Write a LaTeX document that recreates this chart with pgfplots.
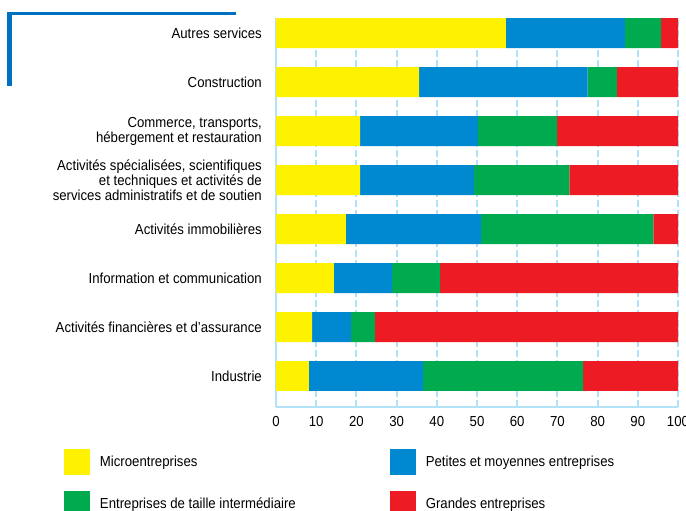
\documentclass[border=0pt]{standalone}
\usepackage{fontspec}
\setmainfont{Liberation Sans}[FakeStretch=0.91]
\usepackage{pgfplots}
\usepackage{pgfplotstable}
\pgfplotsset{compat=1.18}
\definecolor{cmicro}{RGB}{255,242,0}
\definecolor{cpme}{RGB}{0,136,209}
\definecolor{ceti}{RGB}{0,170,79}
\definecolor{cge}{RGB}{237,28,36}
\definecolor{gridblue}{RGB}{178,226,247}
\definecolor{frameblue}{RGB}{0,112,192}
\pgfplotstableread{
idx micro pme eti ge
0 8.2 28.4 39.8 23.6
1 9.0 9.7 5.9 75.4
2 14.4 14.5 11.9 59.2
3 17.4 33.6 42.9 6.1
4 20.9 28.3 23.8 27.0
5 20.9 29.3 19.7 30.1
6 35.6 41.9 7.3 15.2
7 57.2 29.6 9.0 4.2
}\data
\newcommand{\chfont}{\fontsize{14.5bp}{15bp}\selectfont}
\begin{document}
\begin{tikzpicture}
\useasboundingbox (0,0) rectangle (686bp,511bp);
\fill[frameblue] (7.3bp,425bp) rectangle (11.7bp,499.3bp);
\fill[frameblue] (7.3bp,496bp) rectangle (236bp,499.3bp);
\begin{axis}[
  at={(276bp,104bp)}, anchor=south west,
  scale only axis, width=402bp, height=389bp,
  xbar stacked, bar width=0.612,
  xmin=0, xmax=100, ymin=-0.633, ymax=7.31,
  ytick={0,...,7},
  yticklabels={Industrie,{Activités financières et d'assurance},{Information et communication},{Activités immobilières},{Activités spécialisées, scientifiques\\et techniques et activités de\\services administratifs et de soutien},{Commerce, transports,\\hébergement et restauration},Construction,{Autres services}},
  xtick={0,10,...,100},
  axis x line=bottom, axis y line=left,
  axis line style={gridblue, line width=2bp, -},
  major tick length=0pt,
  xmajorgrids,
  grid style={gridblue, line width=2bp, dash pattern=on 7bp off 3bp},
  font=\chfont,
  tick label style={font=\chfont},
  /pgf/number format/assume math mode=true,
  yticklabel style={align=right, inner sep=0pt, xshift=-14bp},
  xticklabel style={inner sep=0pt, yshift=-9bp},
  legend columns=2,
  legend cell align=left,
  legend style={at={(-0.5274,-0.108)}, anchor=north west, draw=none, fill=none,
    inner sep=0pt, outer sep=0pt, row sep=16bp, column sep=8bp,
    font=\chfont,
    /tikz/every even column/.append style={column sep=92bp}},
  legend image code/.code={\fill[#1] (0bp,-13.5bp) rectangle (26bp,12.5bp);},
]
\addplot[fill=cmicro, draw=none] table[x=micro, y=idx]{\data};
\addplot[fill=cpme, draw=none] table[x=pme, y=idx]{\data};
\addplot[fill=ceti, draw=none] table[x=eti, y=idx]{\data};
\addplot[fill=cge, draw=none] table[x=ge, y=idx]{\data};
\legend{Microentreprises,Petites et moyennes entreprises,Entreprises de taille intermédiaire,Grandes entreprises}
\node[anchor=west, inner sep=0pt, font=\chfont] at (axis description cs:1,0) [xshift=1bp, yshift=14bp] {\%};
\end{axis}
\end{tikzpicture}
\end{document}
